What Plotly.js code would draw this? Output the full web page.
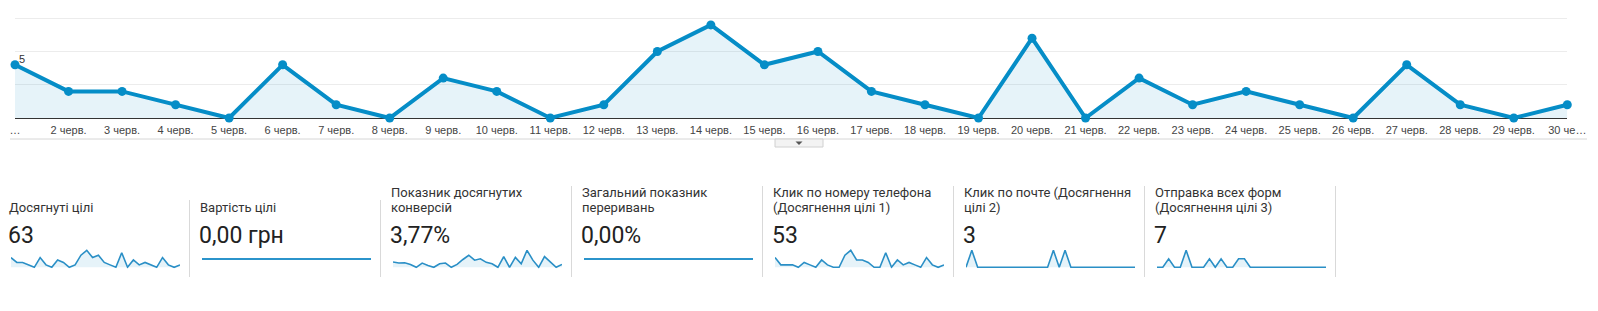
<!DOCTYPE html>
<html>
<head>
<meta charset="utf-8">
<script src="https://cdn.plot.ly/plotly-3.0.1.min.js"></script>
<style>
html,body{margin:0;padding:0;background:#fff;}
#chart{width:1598px;height:311px;}
</style>
</head>
<body>
<div id="chart"></div>
<script>
// ---- data ----
const days = ['1 черв.','2 черв.','3 черв.','4 черв.','5 черв.','6 черв.','7 черв.','8 черв.','9 черв.','10 черв.',
  '11 черв.','12 черв.','13 черв.','14 черв.','15 черв.','16 черв.','17 черв.','18 черв.','19 черв.','20 черв.',
  '21 черв.','22 черв.','23 черв.','24 черв.','25 черв.','26 черв.','27 черв.','28 черв.','29 черв.','30 черв.'];
const tickLabels = ['…','2 черв.','3 черв.','4 черв.','5 черв.','6 черв.','7 черв.','8 черв.','9 черв.','10 черв.',
  '11 черв.','12 черв.','13 черв.','14 черв.','15 черв.','16 черв.','17 черв.','18 черв.','19 черв.','20 черв.',
  '21 черв.','22 черв.','23 черв.','24 черв.','25 черв.','26 черв.','27 черв.','28 черв.','29 черв.','30 че…'];
const goalCompletions = [4,2,2,1,0,4,1,0,3,2,0,1,5,7,4,5,2,1,0,6,0,3,1,2,1,0,4,1,0,1];
const goalValue       = [0,0,0,0,0,0,0,0,0,0,0,0,0,0,0,0,0,0,0,0,0,0,0,0,0,0,0,0,0,0];
const conversionRate  = [3.1,2.5,2.7,1.7,0,2.5,1.0,0,2.1,2.5,0,1.7,4.6,7.1,4.2,5.0,2.9,2.1,0,6.3,0,5.8,2.1,10,4.2,0,6.3,2.9,0,1.7];
const abandonRate     = [0,0,0,0,0,0,0,0,0,0,0,0,0,0,0,0,0,0,0,0,0,0,0,0,0,0,0,0,0,0];
const phoneClicks     = [4,1,1,1,0,2,1,0,3,1,0,0,5,7,3,3,2,0,0,6,0,3,1,2,1,0,4,1,0,1];
const emailClicks     = [0,1,0,0,0,0,0,0,0,0,0,0,0,0,0,1,0,1,0,0,0,0,0,0,0,0,0,0,0,0];
const formSubmits     = [0,0,1,0,0,2,0,0,0,1,0,1,0,0,1,1,0,0,0,0,0,0,0,0,0,0,0,0,0,0];
const cardTitles = [
  ['Досягнуті цілі'],
  ['Вартість цілі'],
  ['Показник досягнутих','конверсій'],
  ['Загальний показник','переривань'],
  ['Клик по номеру телефона','(Досягнення цілі 1)'],
  ['Клик по почте (Досягнення','цілі 2)'],
  ['Отправка всех форм','(Досягнення цілі 3)']
];
const cardValues = ['63','0,00 грн','3,77%','0,00%','53','3','7'];
const sparkSeries = [goalCompletions, goalValue, conversionRate, abandonRate, phoneClicks, emailClicks, formSubmits];
const axisLabelValue = 5;

// ---- geometry helpers ----
const W = 1598, H = 311;
const px = x => x / W;
const py = y => 1 - y / H;

const BLUE = '#058dc7';
const traces = [];
const layout = {
  width: W, height: H,
  margin: {l:0, r:0, t:0, b:0, pad:0},
  paper_bgcolor: '#fff', plot_bgcolor: 'rgba(0,0,0,0)',
  showlegend: false, hovermode: false,
  annotations: [], shapes: []
};

// main chart
const unit = 13.3, base = 118;
const yLo = -0.3, yHi = 7.7;
layout.xaxis = {
  domain: [px(15), px(1567.3)], type: 'category', range: [0, 29],
  tickmode: 'array', tickvals: days, ticktext: tickLabels,
  showgrid: false, zeroline: false, showline: false, ticks: '',
  tickfont: {family: 'Liberation Sans, Arial, sans-serif', size: 11, color: '#444'},
  ticklabelstandoff: 0, fixedrange: true
};
layout.yaxis = {
  domain: [py(base - yLo * unit), py(base - yHi * unit)], range: [yLo, yHi],
  tick0: 0, dtick: 2.5, showticklabels: false, ticks: '',
  showgrid: true, gridcolor: '#ececec', gridwidth: 1,
  zeroline: true, zerolinecolor: '#333', zerolinewidth: 1, fixedrange: true
};
traces.push({
  x: days, y: goalCompletions, type: 'scatter', mode: 'lines+markers',
  line: {color: BLUE, width: 4}, marker: {color: BLUE, size: 9},
  fill: 'tozeroy', fillcolor: 'rgba(5,141,199,0.1)', cliponaxis: false,
  xaxis: 'x', yaxis: 'y'
});
layout.annotations.push({
  xref: 'paper', yref: 'paper', x: px(17), y: py(59.5), xanchor: 'left', yanchor: 'middle',
  text: String(axisLabelValue), showarrow: false,
  font: {family: 'Liberation Sans, Arial, sans-serif', size: 11, color: '#333'}
});

// separator line and toggle button
layout.shapes.push({type:'line', xref:'paper', yref:'paper', x0: px(10), x1: px(1587), y0: py(139), y1: py(139),
  line:{color:'#d6d6d6', width:1}});
layout.shapes.push({type:'rect', xref:'paper', yref:'paper', x0: px(775), x1: px(823), y0: py(139), y1: py(147),
  fillcolor:'#f3f3f3', line:{color:'#d0d0d0', width:1}});
layout.shapes.push({type:'path', xref:'paper', yref:'paper',
  path: `M ${px(795.5)} ${py(141.5)} L ${px(802.5)} ${py(141.5)} L ${px(799)} ${py(145)} Z`,
  fillcolor:'#555', line:{width:0}});

// scorecards
const CARD_W = 191;
const titleFont = {family: 'Roboto, "Noto Sans", sans-serif', size: 13, color: '#333'};
const valueFont = {family: 'Roboto, "Noto Sans", sans-serif', size: 23, color: '#222'};
for (let k = 0; k < 7; k++) {
  const tx = 7 + CARD_W * k;
  const lines = cardTitles[k];
  const two = lines.length > 1;
  lines.forEach((t, i) => {
    const yc = two ? (i === 0 ? 192.7 : 207.3) : 207.3;
    layout.annotations.push({xref:'paper', yref:'paper', x: px(tx), y: py(yc), xanchor:'left', yanchor:'middle',
      text: t, showarrow:false, font: titleFont});
  });
  layout.annotations.push({xref:'paper', yref:'paper', x: px(tx - 1), y: py(235), xanchor:'left', yanchor:'middle',
    text: cardValues[k], showarrow:false, font: valueFont});
  // divider (right border)
  const dx = 189.5 + CARD_W * k;
  layout.shapes.push({type:'line', xref:'paper', yref:'paper', x0: px(dx), x1: px(dx), y0: py(two ? 186 : 200), y1: py(277),
    line:{color:'#d9d9d9', width:1}});

  // sparkline
  const s = sparkSeries[k];
  const mx = Math.max(...s);
  const xa = 'xaxis' + (k + 2), ya = 'yaxis' + (k + 2);
  const d0 = 248.5, d1 = 268.5;
  let lo, hi;
  if (mx > 0) {
    const zeroPx = 267.3, topPx = 250.3;
    const perPx = mx / (zeroPx - topPx);
    lo = -(d1 - zeroPx) * perPx; hi = mx + (topPx - d0) * perPx;
  } else {
    const midPx = 259, perPx = 1 / 10;
    lo = -(d1 - midPx) * perPx; hi = (midPx - d0) * perPx;
  }
  layout[xa] = {domain: [px(11 + CARD_W * k), px(180 + CARD_W * k)], type:'category', range:[0, 29],
    visible:false, anchor: 'y' + (k + 2), fixedrange:true};
  layout[ya] = {domain: [py(d1), py(d0)], range:[lo, hi], visible:false, anchor: 'x' + (k + 2), fixedrange:true};
  const tr = {x: days, y: s, type:'scatter', mode:'lines', line:{color: mx > 0 ? '#2a8fc6' : '#2b94cb', width: mx > 0 ? 1.6 : 2.2},
    xaxis:'x' + (k + 2), yaxis:'y' + (k + 2), cliponaxis:false};
  if (mx > 0) { tr.fill = 'tozeroy'; tr.fillcolor = 'rgba(5,141,199,0.1)'; }
  traces.push(tr);
}

Plotly.newPlot('chart', traces, layout, {staticPlot: true, displayModeBar: false});
</script>
</body>
</html>
